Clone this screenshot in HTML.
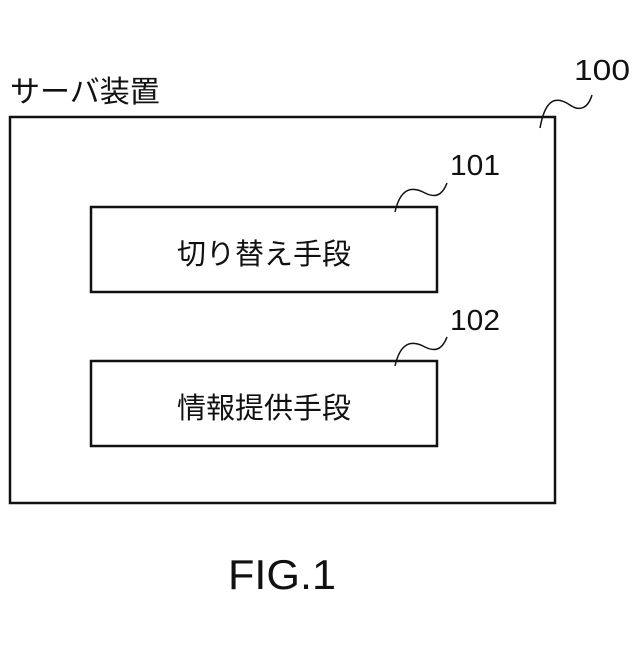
<!DOCTYPE html>
<html><head><meta charset="utf-8"><style>
body{margin:0;width:640px;height:640px;background:#fff;overflow:hidden}
svg text{font-family:"Liberation Sans","Noto Sans CJK JP",sans-serif;fill:#111}
</style></head><body>
<svg width="640" height="640" viewBox="0 0 640 640">
<g fill="none" stroke="#111" stroke-width="2.5">
<rect x="10" y="117" width="545" height="386"/>
<rect x="91" y="207" width="346" height="85"/>
<rect x="91" y="361" width="346" height="85"/>
</g>
<g fill="none" stroke="#111" stroke-width="1.5">
<path d="M540 128 C545 100,555 95,570 105 C580 112,588 108,592 95"/>
<path d="M395 212 C400 190,410 185,425 193 C435 198,442 196,447 183"/>
<path d="M395 366 C400 344,410 339,425 347 C435 352,442 350,447 337"/>
</g>
<text x="10" y="102" font-size="30">サーバ装置</text>
<text x="574" y="80" font-size="29" textLength="56" lengthAdjust="spacingAndGlyphs">100</text>
<text x="450" y="175" font-size="29" textLength="50" lengthAdjust="spacingAndGlyphs">101</text>
<text x="450" y="330" font-size="29" textLength="50" lengthAdjust="spacingAndGlyphs">102</text>
<text x="264" y="264" font-size="29" text-anchor="middle">切り替え手段</text>
<text x="264" y="418" font-size="29" text-anchor="middle">情報提供手段</text>
<text x="228" y="589" font-size="42" textLength="108" lengthAdjust="spacingAndGlyphs">FIG.1</text>
</svg>
</body></html>
